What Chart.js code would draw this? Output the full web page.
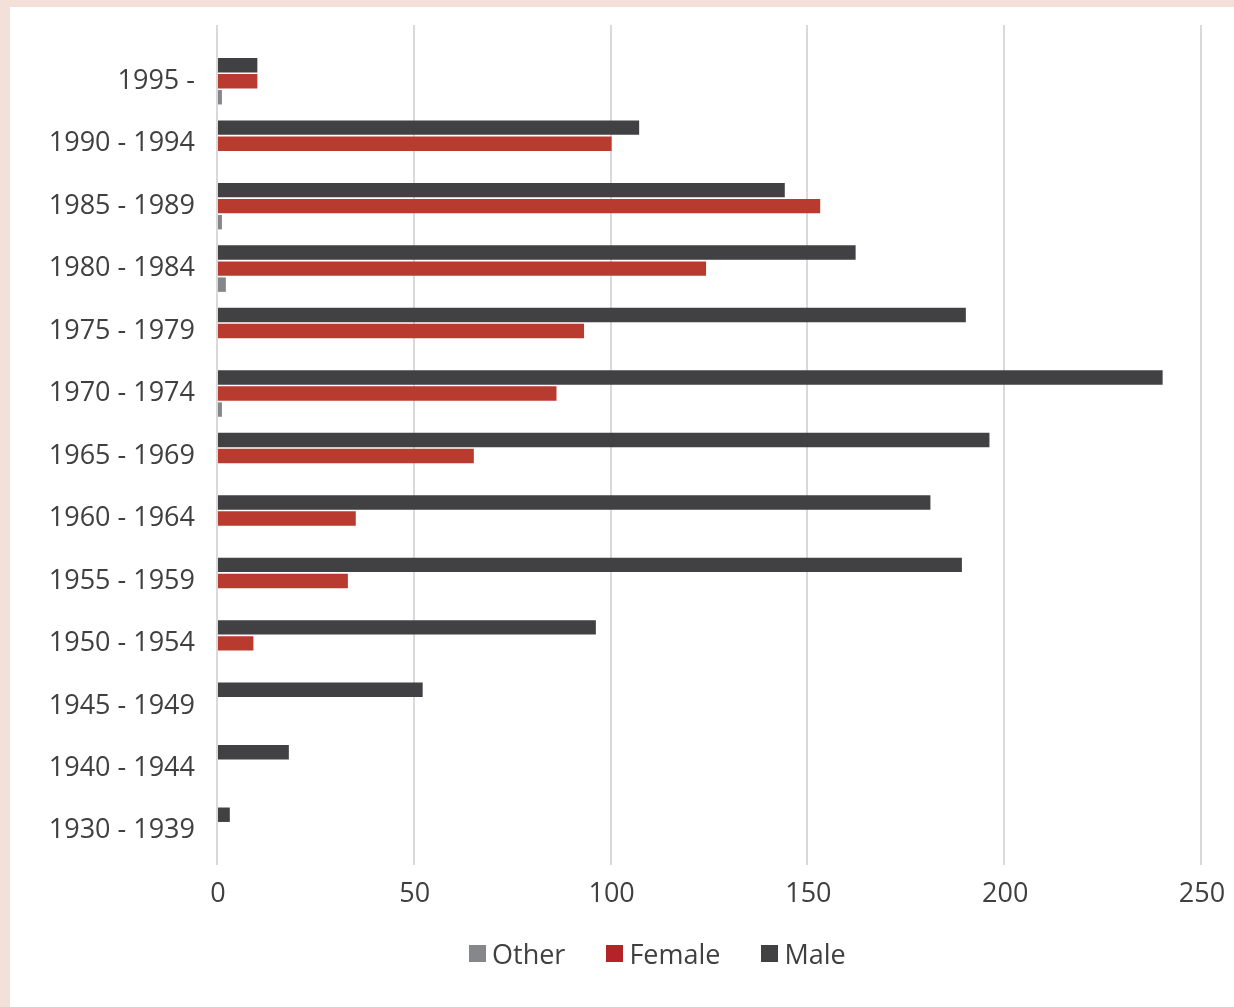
<!DOCTYPE html>
<html>
<head>
<meta charset="utf-8">
<script src="https://cdn.jsdelivr.net/npm/chart.js@4"></script>
<style>
  html, body { margin: 0; padding: 0; }
  body { width: 1234px; height: 1007px; background: #f2e0d9; position: relative; overflow: hidden; }
  #panel { position: absolute; left: 10px; top: 7px; width: 1224px; height: 1000px; background: #fff; }
  #wrap { position: absolute; left: 0; top: 0; width: 1234px; height: 1007px; }
  #legend { position: absolute; top: 935px; left: 469px; height: 36px; display: flex; align-items: center;
            font-family: "Open Sans", sans-serif; font-size: 27px; color: #404040; white-space: nowrap; }
  #legend .item { display: flex; align-items: center; margin-right: 41px; }
  #legend .box { width: 17px; height: 17px; margin-right: 6px; }
</style>
</head>
<body>
<div id="panel"></div>
<div id="wrap"><canvas id="chart" width="1234" height="1007"></canvas></div>
<div id="legend"></div>
<script>
// birth-year bands, top to bottom
var categories = ["1995 -", "1990 - 1994", "1985 - 1989", "1980 - 1984", "1975 - 1979",
  "1970 - 1974", "1965 - 1969", "1960 - 1964", "1955 - 1959", "1950 - 1954",
  "1945 - 1949", "1940 - 1944", "1930 - 1939"];
var male   = [10, 107, 144, 162, 190, 240, 196, 181, 189, 96, 52, 18, 3];
var female = [10, 100, 153, 124, 93, 86, 65, 35, 33, 9, 0, 0, 0];
var other  = [1, 0, 1, 2, 0, 1, 0, 0, 0, 0, 0, 0, 0];
var xTicks = [0, 50, 100, 150, 200, 250];

var FONT = "'Open Sans', sans-serif";
var TEXT = "#404040";

// vertical gridlines run a bit past the plot area, top and bottom
var gridPlugin = {
  id: "longGrid",
  beforeDatasetsDraw: function (chart) {
    var ctx = chart.ctx, xs = chart.scales.x;
    ctx.save();
    ctx.strokeStyle = "#d9d9d9";
    ctx.lineWidth = 2;
    xTicks.forEach(function (v) {
      var px = Math.round(xs.getPixelForValue(v)) - 1;
      ctx.beginPath();
      ctx.moveTo(px, 25);
      ctx.lineTo(px, 865);
      ctx.stroke();
    });
    ctx.restore();
  }
};

var chart = new Chart(document.getElementById("chart"), {
  type: "bar",
  data: {
    labels: categories,
    datasets: [
      { label: "Male", data: male, backgroundColor: "#414143" },
      { label: "Female", data: female, backgroundColor: "#b93b30" },
      { label: "Other", data: other, backgroundColor: "#86878a" }
    ]
  },
  options: {
    indexAxis: "y",
    responsive: false,
    animation: false,
    categoryPercentage: 0.77,
    barPercentage: 0.9,
    layout: { padding: { top: 50, right: 32, bottom: 0, left: 0 } },
    plugins: { legend: { display: false }, tooltip: { enabled: false } },
    scales: {
      x: {
        min: 0, max: 250,
        afterBuildTicks: function (s) { s.ticks = xTicks.map(function (v) { return { value: v }; }); },
        afterFit: function (s) { s.height = 145; s.paddingLeft = 0; s.paddingRight = 0; },
        grid: { display: false, drawTicks: false },
        border: { display: false },
        ticks: { color: TEXT, font: { family: FONT, size: 27 }, padding: 16 }
      },
      y: {
        afterFit: function (s) { s.width = 218; s.paddingTop = 0; s.paddingBottom = 0; },
        grid: { display: false, drawTicks: false },
        border: { display: false },
        ticks: { color: TEXT, font: { family: FONT, size: 27 }, padding: 23 }
      }
    }
  },
  plugins: [gridPlugin]
});

// legend, listed in reverse series order
var legendItems = [
  { name: "Other", color: "#86878a" },
  { name: "Female", color: "#b5232a" },
  { name: "Male", color: "#414143" }
];
var lg = document.getElementById("legend");
legendItems.forEach(function (it) {
  var item = document.createElement("div");
  item.className = "item";
  var box = document.createElement("span");
  box.className = "box";
  box.style.background = it.color;
  item.appendChild(box);
  item.appendChild(document.createTextNode(it.name));
  lg.appendChild(item);
});
</script>
</body>
</html>
